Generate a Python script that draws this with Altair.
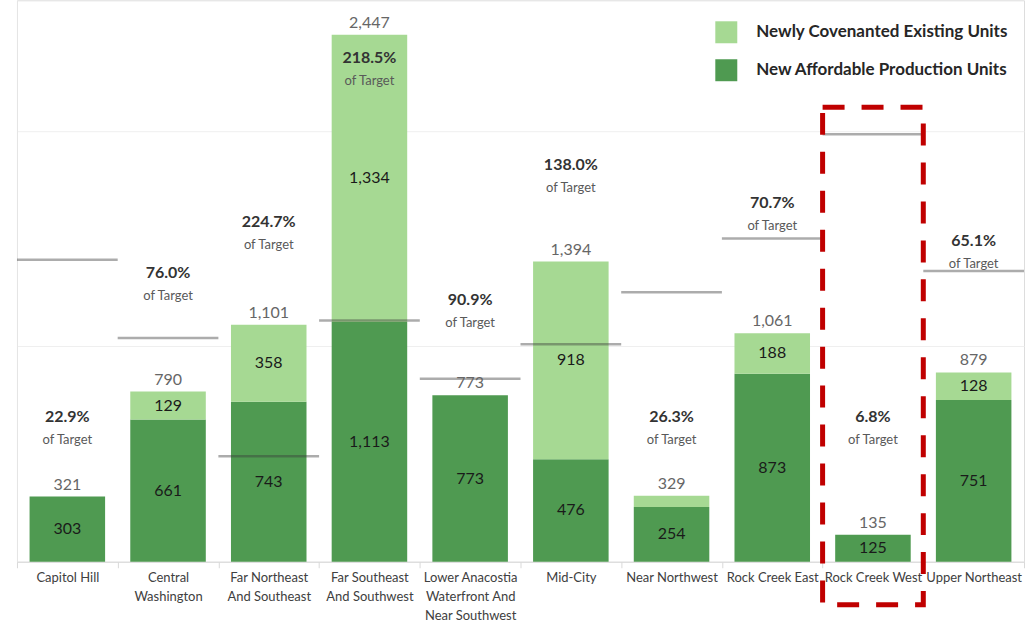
import altair as alt
import pandas as pd

categories = ["Capitol Hill", "Central\nWashington", "Far Northeast\nAnd Southeast",
              "Far Southeast\nAnd Southwest", "Lower Anacostia\nWaterfront And\nNear Southwest",
              "Mid-City", "Near Northwest", "Rock Creek East", "Rock Creek West", "Upper Northeast"]
new_production = [303, 661, 743, 1113, 773, 476, 254, 873, 125, 751]
covenanted = [0, 129, 358, 1334, 0, 918, 53, 188, 0, 128]
totals = [321, 790, 1101, 2447, 773, 1394, 329, 1061, 135, 879]
targets = [1402, 1039, 490, 1120, 850, 1010, 1251, 1501, 1985, 1350]
pct_of_target = ["22.9%", "76.0%", "224.7%", "218.5%", "90.9%", "138.0%", "26.3%", "70.7%", "6.8%", "65.1%"]
# vertical anchor (in data units) where each "% of Target" annotation sits
pct_anchor = [673, 1340, 1577, 2338, 1215, 1841, 673, 1665, 673, 1489]
highlight = "Rock Creek West"

SER_COV = "Newly Covenanted Existing  Units"
SER_NEW = "New Affordable Production  Units"
LIGHT = "#a6d993"
DARK = "#4f9a51"
FONT = "Lato, Liberation Sans, sans-serif"

rows = []
for c, p, v in zip(categories, new_production, covenanted):
    rows.append({"cat": c, "series": SER_NEW, "value": p, "ord": 0, "start": 0})
    rows.append({"cat": c, "series": SER_COV, "value": v, "ord": 1, "start": p})
seg = pd.DataFrame(rows)
seg["mid"] = seg["start"] + seg["value"] / 2
seg["label"] = seg["value"].map(lambda v: f"{v:,}")
seg_lab = seg[seg["value"] >= 100]

summ = pd.DataFrame({
    "cat": categories,
    "total_label": [f"{t:,}" for t in totals],
    "bar_top": [p + v for p, v in zip(new_production, covenanted)],
    "target": targets,
    "pct": pct_of_target,
    "anchor": pct_anchor,
})

W, H = 1008, 562
STEP = W / len(categories)

xenc = alt.X("cat:N", sort=categories,
             scale=alt.Scale(paddingInner=0, paddingOuter=0),
             axis=alt.Axis(title=None, labelAngle=0, labelExpr="split(datum.label, '\\n')",
                           labelFont=FONT, labelFontSize=13, labelColor="#404040",
                           labelLineHeight=19, labelPadding=4, labelLimit=200,
                           domainColor="#d9d9d9", tickColor="#d9d9d9", tickBand="extent",
                           tickSize=6, grid=False))
yscale = alt.Scale(domain=[0, 2607], nice=False, zero=True)

bars = alt.Chart(seg).mark_bar(width=alt.RelativeBandSize(0.75)).encode(
    x=xenc,
    y=alt.Y("value:Q", stack="zero", scale=yscale,
            axis=alt.Axis(title=None, labels=False, ticks=False, values=[0, 1000, 2000],
                          domainColor="#e6e6e6", gridColor="#efefef", grid=True)),
    color=alt.Color("series:N", scale=alt.Scale(domain=[SER_COV, SER_NEW], range=[LIGHT, DARK]),
                    legend=alt.Legend(title=None, orient="none", legendX=699, legendY=21,
                                      symbolType="square", symbolSize=484, symbolStrokeWidth=0,
                                      symbolOpacity=1, labelFont=FONT, labelFontSize=17,
                                      labelFontWeight="bold", labelColor="#262626",
                                      labelOffset=19, rowPadding=16, labelLimit=400)),
    order=alt.Order("ord:Q"),
)

seg_text = alt.Chart(seg_lab).mark_text(font=FONT, fontSize=16, color="#1a1a1a", baseline="middle").encode(
    x=alt.X("cat:N", sort=categories),
    y=alt.Y("mid:Q"),
    text="label:N",
)

tot_text = alt.Chart(summ).mark_text(font=FONT, fontSize=16, color="#666666", baseline="bottom", dy=-4).encode(
    x=alt.X("cat:N", sort=categories),
    y=alt.Y("bar_top:Q"),
    text="total_label:N",
)

target_ticks = alt.Chart(summ).mark_tick(size=STEP, thickness=2.5, color="#3a3a3a", opacity=0.42).encode(
    x=alt.X("cat:N", sort=categories),
    y=alt.Y("target:Q"),
)

pct_text = alt.Chart(summ).mark_text(font=FONT, fontSize=16, fontWeight="bold", color="#333333",
                                     baseline="middle").encode(
    x=alt.X("cat:N", sort=categories),
    y=alt.Y("anchor:Q"),
    text="pct:N",
)
of_text = alt.Chart(summ).mark_text(font=FONT, fontSize=13, color="#595959", baseline="middle", dy=23).encode(
    x=alt.X("cat:N", sort=categories),
    y=alt.Y("anchor:Q"),
    text=alt.value("of Target"),
)

box = alt.Chart(summ[summ["cat"] == highlight]).mark_rect(
    fillOpacity=0, stroke="#c00000", strokeWidth=5, strokeDash=[22, 17]
).encode(
    x=alt.X("cat:N", sort=categories),
    y=alt.datum(2110),
    y2=alt.datum(-200),
)

chart = alt.layer(bars, target_ticks, seg_text, tot_text, pct_text, of_text, box).properties(
    width=W, height=H,
    padding={"left": 16, "top": 0, "right": 0, "bottom": 0},
).configure_view(stroke=None).configure(background="white")

chart.save("out.html", embed_options={"renderer": "svg", "actions": False})
